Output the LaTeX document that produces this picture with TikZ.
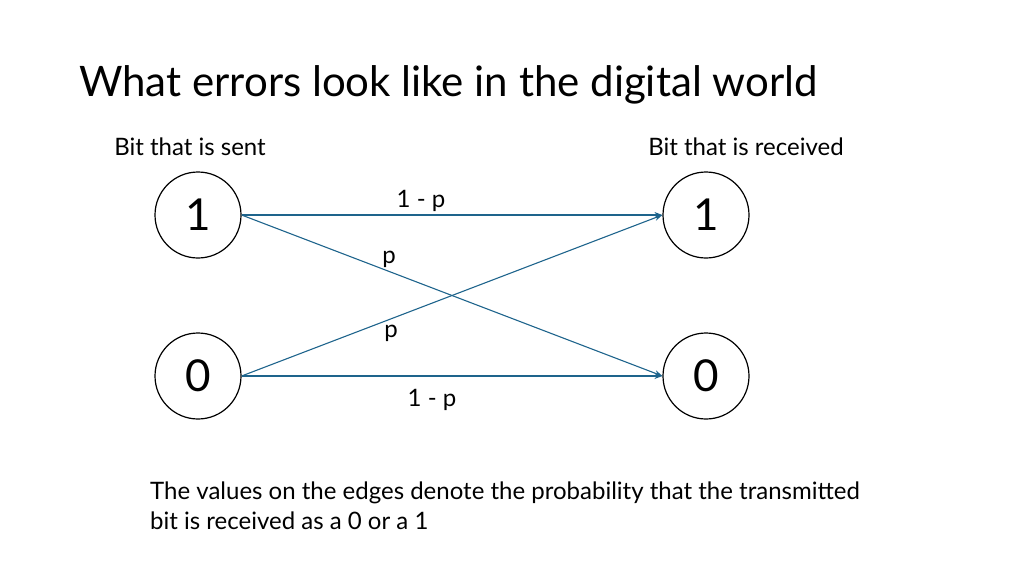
\documentclass[tikz,border=0pt]{standalone}
\usepackage{fontspec}
\setmainfont{Lato}
\usetikzlibrary{arrows.meta}
\begin{document}
\begin{tikzpicture}[x=1pt,y=-1pt,
  bit/.style={circle,draw,line width=1.2pt,minimum size=86pt,inner sep=0pt,font=\fontsize{44}{44}\selectfont},
  edge/.style={draw={rgb,255:red,30;green,100;blue,140},line width=1.1pt,-{Stealth[length=8pt,width=6pt]}},
  lbl/.style={font=\fontsize{24}{28}\selectfont,inner sep=0pt}]
\useasboundingbox (0,0) rectangle (1024,576);
\node[anchor=west,font=\fontsize{42}{46}\selectfont,inner sep=0pt] (title) at (79,85) {What errors look like in the digital world};
\node[lbl] (sent) at (190,147) {Bit that is sent};
\node[lbl] (recv) at (746,147) {Bit that is received};
\node[bit] (l1) at (198,215) {1};
\node[bit] (r1) at (706,215) {1};
\node[bit] (l0) at (198,376) {0};
\node[bit] (r0) at (706,376) {0};
\draw[edge] (l1.east) -- (r1.west);
\draw[edge] (l1.east) -- (r0.west);
\draw[edge] (l0.east) -- (r1.west);
\draw[edge] (l0.east) -- (r0.west);
\node[lbl] (a) at (421,201) {1 - p};
\node[lbl] (b) at (389,259) {p};
\node[lbl] (c) at (391,333) {p};
\node[lbl] (d) at (432,400) {1 - p};
\node[lbl,anchor=north west,align=left,font=\fontsize{24}{30}\selectfont] (note) at (150,482) {The values on the edges denote the probability that the transmitted\\bit is received as a 0 or a 1};
\end{tikzpicture}
\end{document}
